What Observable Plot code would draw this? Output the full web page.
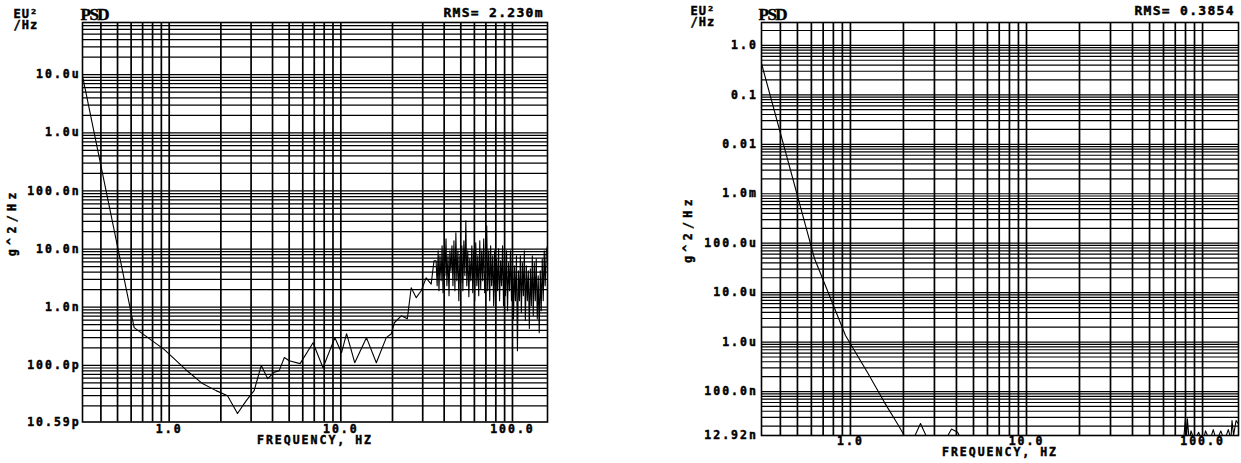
<!DOCTYPE html>
<html><head><meta charset="utf-8">
<script src="https://cdn.jsdelivr.net/npm/d3@7"></script>
<script src="https://cdn.jsdelivr.net/npm/@observablehq/plot@0.6"></script>
<style>
html,body{margin:0;padding:0;background:#fff;}
#wrap{display:flex;width:1241px;height:463px;overflow:hidden;}
#wrap svg text{stroke:#000;stroke-width:0.45px;}
</style></head><body><div id="wrap"></div>
<script>
// ---------- data ----------
const xDomain = [0.3125, 160];
const xTicks = [1, 10, 100];
const xTickLabels = ["1.0", "10.0", "100.0"];
const xDecades = [0.1, 1, 10, 100];
const multipliers = [1, 2, 3, 4, 5, 6, 7, 8, 9];
const xTitle = "FREQUENCY, HZ";
const yTitle = "g^2/Hz";

// left panel
const leftYDomain = [10.59e-12, 7.9e-5];
const leftYDecades = [1e-11, 1e-10, 1e-9, 1e-8, 1e-7, 1e-6, 1e-5];
const leftYTicks = [10.59e-12, 1e-10, 1e-9, 1e-8, 1e-7, 1e-6, 1e-5];
const leftYLabels = ["10.59p", "100.0p", "1.0n", "10.0n", "100.0n", "1.0u", "10.0u"];
const leftRms = "RMS= 2.230m";
const leftFreq = [
  0.3125,0.625,0.9375,1.25,1.5625,1.875,2.1875,2.5,2.8125,3.125,
  3.4375,3.75,4.0625,4.375,4.6875,5.0,5.79,6.89,7.87,9.23,
  10.1,10.8,12.05,14.1,16.1,18.4,19.7,20.5,22.5,24.4,
  25.7,27.5,29.4,31.4,33.6,34.9,
  35.9,36.4,36.9,37.3,37.8,38.4,38.9,39.4,39.9,40.4,
  41.0,41.5,42.1,42.7,43.2,43.8,44.4,45.0,45.6,46.2,
  46.8,47.4,48.1,48.7,49.4,50.0,50.7,51.4,52.1,52.8,
  53.5,54.2,54.9,55.7,56.4,57.2,58.0,58.7,59.5,60.3,
  61.1,62.0,62.8,63.6,64.5,65.3,66.2,67.1,68.0,68.9,
  69.8,70.8,71.7,72.7,73.7,74.6,75.6,76.7,77.7,78.7,
  79.8,80.8,81.9,83.0,84.1,85.3,86.4,87.6,88.7,89.9,
  91.1,92.3,93.6,94.8,96.1,97.4,98.7,100.0,101.4,102.7,
  104.1,105.5,106.9,108.3,109.8,111.2,112.7,114.2,115.8,117.3,
  118.9,120.5,122.1,123.7,125.4,127.1,128.8,130.5,132.2,134.0,
  135.8,137.6,139.5,141.3,143.2,145.2,147.1,149.1,151.1,153.1,
  155.1,157.5,160
];
const leftPsd = [
  9.5e-6,4.45e-10,1.86e-10,8.4e-11,4.85e-11,3.67e-11,3.0e-11,1.48e-11,2.47e-11,3.67e-11,
  9.9e-11,5.9e-11,7.5e-11,8.1e-11,1.36e-10,1.2e-10,1.07e-10,2.45e-10,9.1e-11,2.99e-10,
  1.65e-10,3.5e-10,1.11e-10,2.99e-10,1.11e-10,2.99e-10,3.5e-10,5.4e-10,7.1e-10,6.3e-10,
  2.16e-9,1.46e-9,1.92e-9,3.2e-9,2.5e-9,6.3e-9,
  6.3e-9,2.34e-9,9.35e-9,1.92e-9,7.67e-9,2.85e-9,1.14e-8,1.77e-9,9.35e-9,3.48e-9,
  1.5e-8,2.34e-9,7.67e-9,1.58e-9,9.35e-9,4.24e-9,1.14e-8,2.34e-9,1.39e-8,1.92e-9,
  1.91e-8,2.85e-9,9.35e-9,1.29e-9,7.67e-9,2.64e-9,1.14e-8,1.92e-9,1.39e-8,3.48e-9,
  3.06e-8,2.34e-9,9.35e-9,1.51e-9,6.81e-9,2.85e-9,1.14e-8,1.77e-9,9.35e-9,1.29e-9,
  1.28e-8,2.34e-9,7.67e-9,1.58e-9,1.39e-8,2.08e-9,9.35e-9,2.85e-9,1.5e-8,1.77e-9,
  4.24e-9,2.51e-8,1.92e-9,9.35e-9,1.29e-9,1.14e-8,2.34e-9,7.67e-9,1.06e-9,9.35e-9,
  8.0e-10,6.81e-9,1.92e-9,1.01e-8,1.29e-9,6.3e-9,2.34e-9,1.14e-8,1.06e-9,7.67e-9,
  1.58e-9,9.35e-9,8.7e-10,5.82e-9,1.92e-9,9.35e-9,1.29e-9,6.81e-9,6.3e-10,5.16e-9,
  1.29e-9,7.67e-9,1.79e-10,4.24e-9,1.29e-9,7.67e-9,8.0e-10,5.82e-9,1.58e-9,9.35e-9,
  5.9e-10,5.16e-9,1.29e-9,4.24e-9,4.3e-10,4.59e-9,1.06e-9,7.67e-9,7.1e-10,5.82e-9,
  1.29e-9,6.81e-9,6.3e-10,3.48e-9,3.65e-10,4.24e-9,8.7e-10,6.81e-9,1.29e-9,9.35e-9,
  2.34e-9,9.35e-9,1.14e-8
];

// right panel
const rightYDomain = [12.92e-9, 2.9];
const rightYDecades = [1e-8, 1e-7, 1e-6, 1e-5, 1e-4, 1e-3, 1e-2, 1e-1, 1];
const rightYTicks = [12.92e-9, 1e-7, 1e-6, 1e-5, 1e-4, 1e-3, 1e-2, 1e-1, 1];
const rightYLabels = ["12.92n", "100.0n", "1.0u", "10.0u", "100.0u", "1.0m", "0.01", "0.1", "1.0"];
const rightRms = "RMS= 0.3854";
const rightFreq = [
  0.3125,0.625,0.9375,1.25,1.5625,1.875,2.1875,2.5,2.8125,3.125,
  3.4375,3.75,4.0625,4.375,10,30,60,78,80,81,
  82,84,86,90,95,100,104,110,115,120,
  127,133,140,145,147,150,155,160
];
const rightPsd = [
  0.43,4.9e-5,1.36e-6,2.42e-7,5.98e-8,2.05e-8,8e-9,2.25e-8,9e-9,9e-9,
  1.0e-8,1.75e-8,1.5e-8,9e-9,8e-9,8e-9,8e-9,1.0e-8,2.98e-8,1.0e-8,
  2.8e-8,1.0e-8,1.6e-8,1.0e-8,1.5e-8,9e-9,1.6e-8,1.0e-8,1.7e-8,1.0e-8,
  1.6e-8,1.0e-8,1.7e-8,1.1e-8,2.6e-8,1.3e-8,2.6e-8,2.2e-8
];

// ---------- drawing ----------
const mono = "'DejaVu Sans Mono', monospace";
function gridValues(decades, [lo, hi]) {
  return decades.flatMap(d => multipliers.map(m => m * d)).filter(v => v > lo * 1.0001 && v < hi * 0.9999);
}

function panel(c) {
  const data = c.freq.map((f, i) => ({f, v: c.psd[i]}));
  const svg = Plot.plot({
    width: c.width, height: 463,
    marginLeft: c.ml, marginRight: c.mr, marginTop: 22, marginBottom: c.mb,
    style: {fontFamily: mono, fontSize: "11.5px", fontWeight: "bold", letterSpacing: "2px", background: "#fff", color: "#000"},
    x: {type: "log", domain: xDomain, ticks: xTicks, tickFormat: d => xTickLabels[xTicks.indexOf(d)], tickSize: 0, tickPadding: c.xPad, label: null},
    y: {type: "log", domain: c.yDomain, ticks: c.yTicks, tickFormat: d => c.yLabels[c.yTicks.indexOf(d)], tickSize: 0, tickPadding: c.yPad, label: null},
    marks: [
      Plot.ruleY(gridValues(c.yDecades, c.yDomain), {stroke: "#000", strokeWidth: 1.2}),
      Plot.ruleX(gridValues(xDecades, xDomain), {stroke: "#000", strokeWidth: 1.7}),
      Plot.frame({stroke: "#000", strokeWidth: 1.6}),
      Plot.line(data, {x: "f", y: "v", stroke: "#000", strokeWidth: 1.1, clip: true}),
      Plot.text([xTitle], {text: d => d, frameAnchor: "bottom", lineAnchor: "middle", textAnchor: "middle", dy: c.xTitleDy}),
      Plot.text([yTitle], {text: d => d, frameAnchor: "left", lineAnchor: "middle", textAnchor: "middle", dx: c.yTitleDx, rotate: -90}),
      Plot.text(["PSD"], {text: d => d, frameAnchor: "top-left", lineAnchor: "middle", textAnchor: "start", dx: c.psdDx, dy: c.psdDy, fontFamily: "'Liberation Serif', serif", fontSize: 17}),
      Plot.text([c.rms], {text: d => d, frameAnchor: "top-right", lineAnchor: "middle", textAnchor: "end", dx: -3.7, dy: c.rmsDy, fontSize: 13}),
      Plot.text(["EU²"], {text: d => d, frameAnchor: "top-left", lineAnchor: "middle", textAnchor: "start", dx: c.euDx, dy: c.euDy, fontSize: 12}),
      Plot.text(["/Hz"], {text: d => d, frameAnchor: "top-left", lineAnchor: "middle", textAnchor: "start", dx: c.euDx, dy: c.euDy + 11, fontSize: 12})
    ]
  });
  d3.select(svg).selectAll("text").each(function() {
    const t = this.textContent;
    if (t === "PSD") this.style.letterSpacing = "-1.5px";
    if (t === yTitle) this.style.letterSpacing = "4.4px";
    if (t === c.rms) this.style.letterSpacing = "1.3px";
    if (t === "EU²" || t === "/Hz") this.style.letterSpacing = "1px";
  });
  return svg;
}

const wrap = document.getElementById("wrap");
wrap.appendChild(panel({
  width: 620, ml: 82, mr: 73, mb: 41.5,
  yDomain: leftYDomain, yDecades: leftYDecades, yTicks: leftYTicks, yLabels: leftYLabels,
  yPad: 1.8, xPad: 2.5, xTitleDy: 18.5, yTitleDx: -70,
  psdDx: -2, psdDy: -7.5, rmsDy: -9.5, euDx: -69, euDy: -8,
  rms: leftRms, freq: leftFreq, psd: leftPsd
}));
wrap.appendChild(panel({
  width: 621, ml: 141, mr: 3, mb: 28,
  yDomain: rightYDomain, yDecades: rightYDecades, yTicks: rightYTicks, yLabels: rightYLabels,
  yPad: 3.6, xPad: 1.5, xTitleDy: 17, yTitleDx: -73,
  psdDx: -3, psdDy: -8, rmsDy: -12, euDx: -71, euDy: -11,
  rms: rightRms, freq: rightFreq, psd: rightPsd
}));
</script>
</body></html>
